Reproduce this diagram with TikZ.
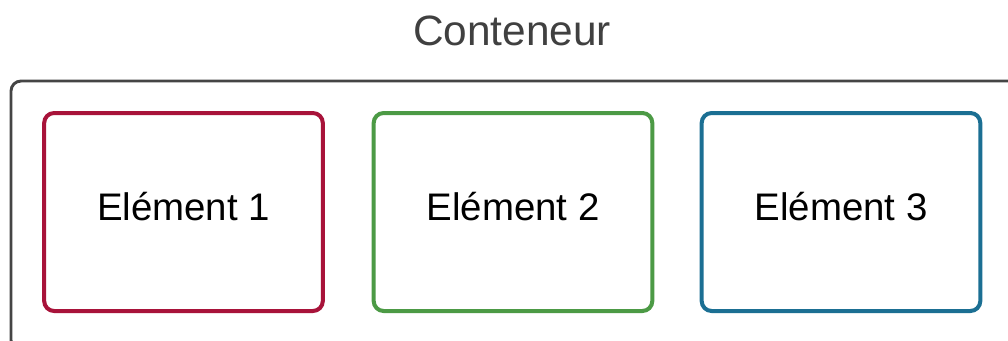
\documentclass[tikz,border=0pt]{standalone}
\usepackage{fontspec}
\setmainfont{Liberation Sans}
\definecolor{boxred}{HTML}{A8133A}
\definecolor{boxgreen}{HTML}{4C9A45}
\definecolor{boxblue}{HTML}{1B6F93}
\definecolor{outline}{HTML}{454545}
\definecolor{titlegray}{HTML}{404040}
\begin{document}
\begin{tikzpicture}[x=0.75pt,y=-0.75pt,
  elembox/.style={draw=#1, line width=3pt, rounded corners=7.5pt, minimum width=209pt, minimum height=148.5pt, inner sep=0pt},
  elemtext/.style={font=\fontsize{28.8}{34}\selectfont, text=black, inner sep=0pt},
  outerbox/.style={draw=outline, line width=2.2pt, rounded corners=7.5pt}]
\useasboundingbox (0,0) rectangle (1008,340);
\clip (0,0) rectangle (1008,340);
\node[font=\fontsize{31.8}{38}\selectfont, text=titlegray, inner sep=0pt] (title) at (512,31) {Conteneur};
\draw[outerbox] (11,81) rectangle (1020,350);
\coordinate (outercorner) at (11,81);
\node[elembox=boxred] (b1) at (183.5,212) {};
\node[elembox=boxgreen] (b2) at (513,212) {};
\node[elembox=boxblue] (b3) at (841,212) {};
\node[elemtext] (t1) at ([yshift=4pt]b1.center) {Elément 1};
\node[elemtext] (t2) at ([yshift=4pt]b2.center) {Elément 2};
\node[elemtext] (t3) at ([yshift=4pt]b3.center) {Elément 3};
\end{tikzpicture}
\end{document}
